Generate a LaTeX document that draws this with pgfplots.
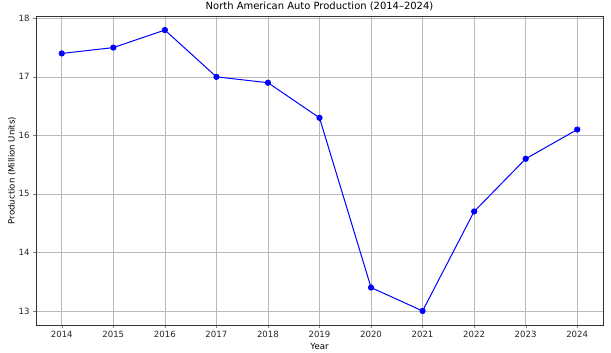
\documentclass[border=0pt]{standalone}
\usepackage{pgfplots}
\pgfplotsset{compat=1.18}
\usepackage{fontspec}
\setmainfont{DejaVu Sans}
\begin{document}
\begin{tikzpicture}[x=1bp,y=1bp]
\begin{axis}[name=ax,
  scale only axis, width=567bp, height=309bp,
  xmin=2013.5, xmax=2024.5, ymin=12.76, ymax=18.04,
  xtick={2014,...,2024}, ytick={13,14,15,16,17,18},
  xticklabel style={/pgf/number format/1000 sep={}},
  /pgf/number format/assume math mode=true,
  tick label style={font=\fontsize{8.6}{9}\selectfont, color=black!85},
  label style={font=\fontsize{8.6}{9}\selectfont},
  title style={font=\fontsize{10}{12}\selectfont, yshift=-4bp},
  title={North American Auto Production (2014–2024)},
  xlabel={Year}, ylabel={Production (Million Units)},
  xlabel style={yshift=2bp}, ylabel style={yshift=-4bp},
  grid=major, major grid style={color=black!27, line width=0.6pt},
  tick align=outside, tick pos=left, major tick length=3bp,
  axis line style={black!80, line width=0.7pt},
]
\addplot[blue, line width=1pt, mark=*, mark size=2.6pt, mark options={fill=blue, draw=blue}]
coordinates {(2014,17.4)(2015,17.5)(2016,17.8)(2017,17.0)(2018,16.9)(2019,16.3)(2020,13.4)(2021,13.0)(2022,14.7)(2023,15.6)(2024,16.1)};
\end{axis}
\pgfresetboundingbox
\path ([xshift=-36bp,yshift=-28bp]ax.south west) rectangle ([xshift=8bp,yshift=16bp]ax.north east);
\end{tikzpicture}
\end{document}
